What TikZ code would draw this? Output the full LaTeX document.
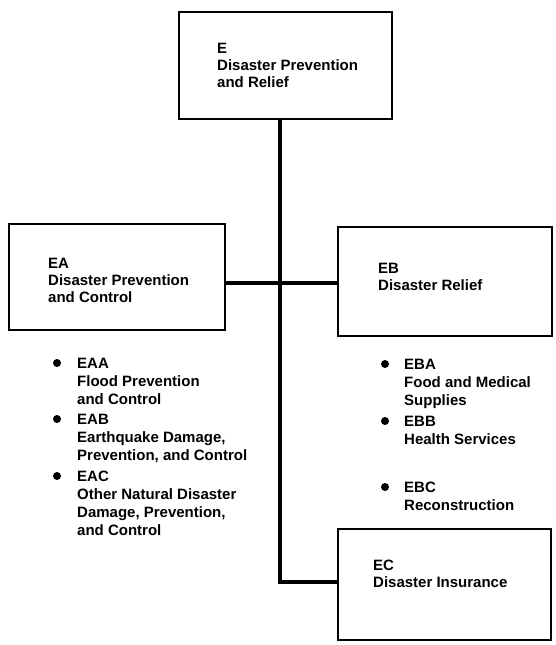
\documentclass[tikz,border=0pt]{standalone}
\usepackage{fontspec}
\setmainfont{Liberation Sans}
\begin{document}
\begin{tikzpicture}[x=1pt,y=-1pt,
  unitbox/.style={draw, line width=1.6pt, inner sep=0pt, anchor=north west},
  boxtext/.style={anchor=north west, inner sep=0pt, align=left,
    font=\fontsize{15}{17}\selectfont\bfseries},
  listtext/.style={anchor=north west, inner sep=0pt, align=left,
    font=\fontsize{15}{18}\selectfont\bfseries},
  trunk/.style={line width=4pt},
  dotmark/.style={circle, fill, inner sep=0pt, minimum size=8pt}]
\useasboundingbox (0,0) rectangle (556,645);

% boxes
\node[unitbox, minimum width=213pt, minimum height=107pt] (E)  at (178,11)  {};
\node[unitbox, minimum width=216pt, minimum height=106pt] (EA) at (8,223)   {};
\node[unitbox, minimum width=214pt, minimum height=109pt] (EB) at (337,226) {};
\node[unitbox, minimum width=213pt, minimum height=111pt] (EC) at (337,528) {};

% box labels
\node[boxtext] (tE)  at (217,42.6)  {E\\Disaster Prevention\\and Relief};
\node[boxtext] (tEA) at (48,257.5)  {EA\\Disaster Prevention\\and Control};
\node[boxtext] (tEB) at (378,262.5) {EB\\Disaster Relief};
\node[boxtext] (tEC) at (373,559.5) {EC\\Disaster Insurance};

% connectors
\coordinate (hub)  at (280,283);
\coordinate (bend) at (280,582);
\draw[trunk] (E.south -| hub) -- (bend) -- (bend -| EC.west);
\draw[trunk] (EA.east |- hub) -- (EB.west |- hub);

% left list
\node[dotmark] (bAA) at (57,363) {};
\node[listtext] (tAA) at (77,357.6) {EAA\\Flood Prevention\\and Control};
\node[dotmark] (bAB) at (57,419) {};
\node[listtext] (tAB) at (77,413.6) {EAB\\Earthquake Damage,\\Prevention, and Control};
\node[dotmark] (bAC) at (57,476) {};
\node[listtext] (tAC) at (77,470.6) {EAC\\Other Natural Disaster\\Damage, Prevention,\\and Control};

% right list
\node[dotmark] (bBA) at (385,364) {};
\node[listtext] (tBA) at (404,358.6) {EBA\\Food and Medical\\Supplies};
\node[dotmark] (bBB) at (385,421) {};
\node[listtext] (tBB) at (404,415.6) {EBB\\Health Services};
\node[dotmark] (bBC) at (385,487) {};
\node[listtext] (tBC) at (404,481.6) {EBC\\Reconstruction};
\end{tikzpicture}
\end{document}
